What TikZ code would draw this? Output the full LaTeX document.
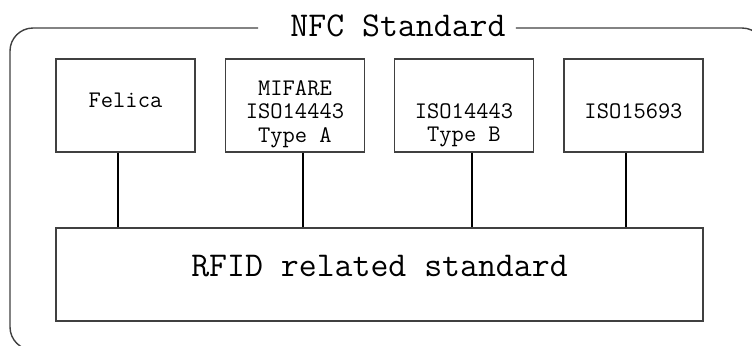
\documentclass[tikz,border=0pt]{standalone}
\usepackage{fontspec}
\begin{document}
\begin{tikzpicture}
[x=0.5pt,y=-0.5pt,
  stdbox/.style={draw=black!75,line width=0.7pt,minimum width=69.5pt,
    minimum height=46.5pt,inner sep=0pt},
  stdlabel/.style={anchor=north,inner sep=0pt,align=center,
    font=\ttfamily\fontsize{11.9}{11.8}\selectfont},
  bigtext/.style={font=\ttfamily\fontsize{17.4}{20}\selectfont},
  linkline/.style={line width=0.9pt}]
\useasboundingbox (0,0) rectangle (752,345);
%% frame with its title
\node (title) at (398,25.5) [bigtext,inner sep=0pt] {NFC Standard};
\coordinate (gapl) at (title.west |- 0,28);
\coordinate (gapr) at (title.east |- 0,28);
\draw[black!75,line width=0.7pt,rounded corners=11.5pt]
  ([xshift=5pt]gapr) -- (765,28) -- (765,350) -- (10,350) -- (10,28)
  -- ([xshift=-16pt]gapl);
%% standard boxes
\foreach \boxname/\x/\ty/\boxtext in {felica/125.5/93/Felica,
  mifare/295/80/MIFARE\\ISO14443\\Type A,
  typeb/464/103/ISO14443\\Type B,
  iso/633.5/103/ISO15693} {
  \node (\boxname) at (\x,105.5) [stdbox] {};
  \node (\boxname text) at (\x,\ty) [stdlabel] {\boxtext};
}
\node (rfid) at (379.5,274.5) [stdbox,bigtext,minimum width=323.5pt,
  text depth=9pt] {RFID related standard};
%% links to the RFID box
\foreach \boxname/\shift in {felica/-3.75, mifare/4, typeb/4, iso/-3.75} {
  \coordinate (top) at ([xshift=\shift pt]\boxname.south);
  \draw[linkline] (top) -- (top |- rfid.north);
}
\end{tikzpicture}
\end{document}
